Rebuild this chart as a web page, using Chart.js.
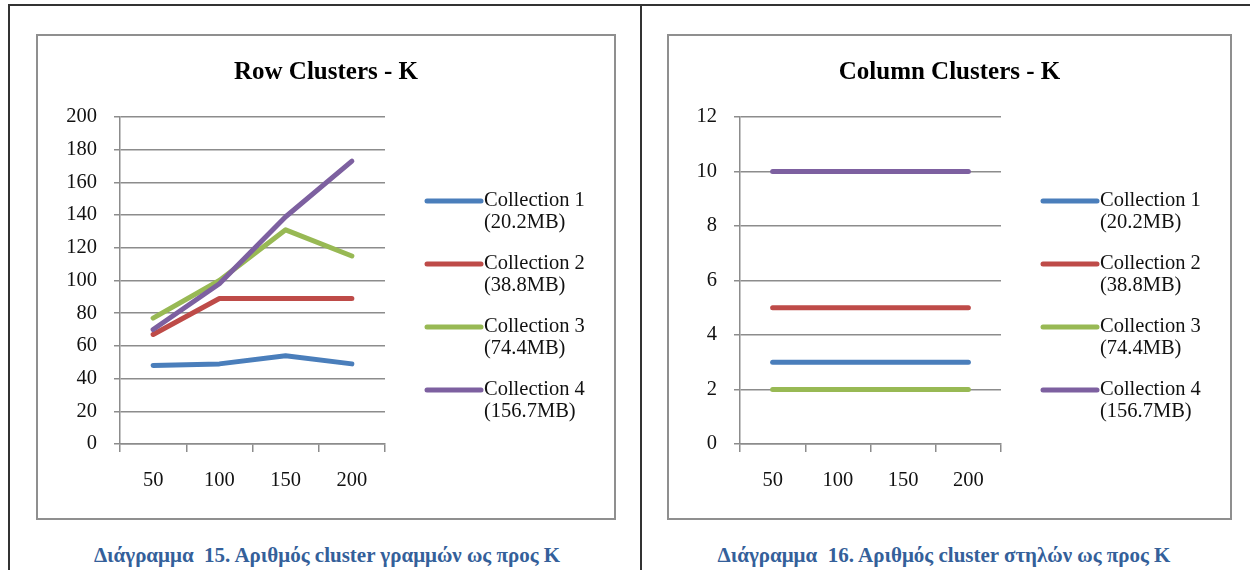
<!DOCTYPE html>
<html lang="el">
<head>
<meta charset="UTF-8">
<title>Row / Column Clusters - K</title>
<script src="https://cdn.jsdelivr.net/npm/chart.js"></script>
<style>
    * { margin: 0; padding: 0; box-sizing: border-box; }
    body {
        width: 1250px;
        height: 570px;
        background: #fff;
        position: relative;
        overflow: hidden;
        font-family: "Liberation Serif", "Times New Roman", serif;
    }
    .rule { position: absolute; background: #333; }
    .box {
        position: absolute;
        border: 2px solid #8f8f8f;
        background: #fff;
    }
    .caption {
        position: absolute;
        top: 543px;
        width: 560px;
        text-align: center;
        font-weight: bold;
        font-size: 21px;
        color: #34609a;
        white-space: nowrap;
    }
</style>
</head>
<body>
    <div class="rule" style="left:8px; top:4px; width:1242px; height:2px;"></div>
    <div class="rule" style="left:8px; top:4px; width:2px; height:566px;"></div>
    <div class="rule" style="left:640px; top:4px; width:2px; height:566px;"></div>

    <div class="box" style="left:36px; top:34px; width:580px; height:486px;">
        <canvas id="rowChart"></canvas>
    </div>
    <div class="box" style="left:667px; top:34px; width:565px; height:486px;">
        <canvas id="colChart"></canvas>
    </div>

    <div class="caption" style="left:47px;">Διάγραμμα&nbsp; 15. Αριθμός cluster γραμμών ως προς K</div>
    <div class="caption" style="left:664px;">Διάγραμμα&nbsp; 16. Αριθμός cluster στηλών ως προς K</div>

<script>
    // K values (x axis)
    const kLabels = ['50', '100', '150', '200'];

    // series names and sizes
    const seriesNames = ['Collection 1', 'Collection 2', 'Collection 3', 'Collection 4'];
    const seriesSizes = ['(20.2MB)', '(38.8MB)', '(74.4MB)', '(156.7MB)'];
    const seriesColors = ['#4a7ebb', '#be4b48', '#98b954', '#7d60a0'];

    // Row clusters
    const rowC1 = [48, 49, 54, 49];
    const rowC2 = [67, 89, 89, 89];
    const rowC3 = [77, 100, 131, 115];
    const rowC4 = [70, 98, 139, 173];

    // Column clusters
    const colC1 = [3, 3, 3, 3];
    const colC2 = [5, 5, 5, 5];
    const colC3 = [2, 2, 2, 2];
    const colC4 = [10, 10, 10, 10];

    const FONT = '"Liberation Serif", "Times New Roman", serif';
    const GRID = '#8c8c8c';

    // title centred over the whole canvas (the built-in one ignores the legend space)
    const boxTitle = {
        id: 'boxTitle',
        afterDraw(chart, args, opts) {
            const ctx = chart.ctx;
            ctx.save();
            ctx.fillStyle = '#000';
            ctx.font = 'bold 25px ' + FONT;
            ctx.textAlign = 'center';
            ctx.textBaseline = 'middle';
            ctx.fillText(opts.text, chart.width / 2, 37);
            ctx.restore();
        }
    };

    // legend at the right, two lines per entry
    const sideLegend = {
        id: 'sideLegend',
        afterDraw(chart) {
            const ctx = chart.ctx;
            const area = chart.chartArea;
            const x0 = area.right + 42;
            chart.data.datasets.forEach((ds, i) => {
                const y = area.top + 84 + i * 63;
                ctx.save();
                ctx.strokeStyle = ds.borderColor;
                ctx.lineWidth = 5;
                ctx.lineCap = 'round';
                ctx.beginPath();
                ctx.moveTo(x0, y);
                ctx.lineTo(x0 + 54, y);
                ctx.stroke();
                ctx.fillStyle = '#111';
                ctx.font = '20.5px ' + FONT;
                ctx.textBaseline = 'middle';
                ctx.fillText(ds.label, x0 + 57, y);
                ctx.fillText(ds.size, x0 + 57, y + 22);
                ctx.restore();
            });
        }
    };

    function makeChart(id, title, series, yMax, yStep, axisWidth) {
        const datasets = series.map((data, i) => ({
            label: seriesNames[i],
            size: seriesSizes[i],
            data: data,
            borderColor: seriesColors[i],
            backgroundColor: seriesColors[i],
            borderWidth: 5,
            borderCapStyle: 'round',
            borderJoinStyle: 'round',
            pointRadius: 0,
            tension: 0,
            order: series.length - i
        }));

        return new Chart(document.getElementById(id), {
            type: 'line',
            data: { labels: kLabels, datasets: datasets },
            options: {
                responsive: true,
                maintainAspectRatio: false,
                animation: false,
                layout: { padding: { top: 81, left: 0, right: 229, bottom: 24 } },
                plugins: {
                    legend: { display: false },
                    tooltip: { enabled: false },
                    title: { display: false },
                    boxTitle: { text: title }
                },
                scales: {
                    x: {
                        offset: true,
                        grid: {
                            offset: true,
                            drawOnChartArea: false,
                            drawTicks: true,
                            tickLength: 8,
                            color: GRID,
                            lineWidth: 1.5
                        },
                        border: { display: true, color: GRID, width: 1.5 },
                        ticks: { color: '#111', padding: 16, font: { family: FONT, size: 20.5 } },
                        afterFit: (s) => { s.height = 50; }
                    },
                    y: {
                        min: 0,
                        max: yMax,
                        grid: { color: GRID, lineWidth: 1.5, tickLength: 6 },
                        border: { display: true, color: GRID, width: 1.5 },
                        ticks: { stepSize: yStep, color: '#111', padding: 17, font: { family: FONT, size: 20.5 } },
                        afterFit: (s) => { s.width = axisWidth; }
                    }
                }
            },
            plugins: [boxTitle, sideLegend]
        });
    }

    makeChart('rowChart', 'Row Clusters - K', [rowC1, rowC2, rowC3, rowC4], 200, 20, 82);
    makeChart('colChart', 'Column Clusters - K', [colC1, colC2, colC3, colC4], 12, 2, 71);
</script>
</body>
</html>
